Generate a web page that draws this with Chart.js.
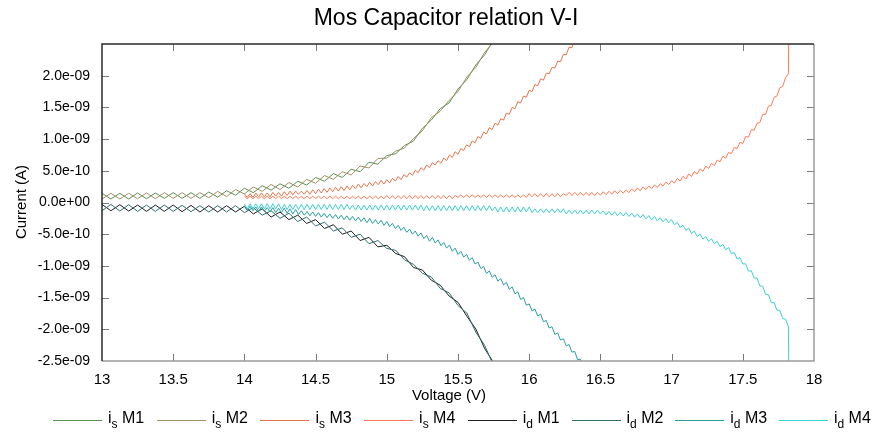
<!DOCTYPE html>
<html>
<head>
<meta charset="utf-8">
<script src="https://cdn.jsdelivr.net/npm/chart.js@4/dist/chart.umd.min.js"></script>
<style>
  html, body { margin: 0; padding: 0; background: #fff; }
  #wrap { position: relative; width: 872px; height: 434px; }
  #legend { position: absolute; left: 0; top: 0; width: 872px; height: 434px; pointer-events: none;
            font-family: "Liberation Sans", Arial, sans-serif; font-size: 16px; color: #000; }
  #legend .ln { position: absolute; top: 420px; width: 49px; height: 1px; }
  #legend .tx { position: absolute; top: 410px; line-height: 16px; white-space: nowrap; }
  #legend sub { font-size: 12px; vertical-align: -5px; line-height: 0; }
</style>
</head>
<body>
<div id="wrap">
  <canvas id="chartVI" width="872" height="434"></canvas>
  <div id="legend"></div>
</div>
<script>
// corrientes en unidades de 1e-10 A, barrido de tension en V
const sweepM12 = [13, 0.0625];   // inicio, paso
const sweepM34 = [14, 0.02];

const isM1 = [
  1.45,0.55,1.45,0.55,1.5,0.6,1.5,0.65,1.55,0.65,
  1.55,0.65,1.65,0.85,1.85,1.15,2.25,1.55,2.65,1.95,
  2.95,2.25,3.35,2.75,3.95,3.35,4.55,3.95,5.25,4.85,
  6.35,6.05,7.4,7.7,9.0,9.7,11.7,13.0,14.8,15.7,
  17.9,19.4,21.7,23.3,25.7,27.3
];
const isM2 = [
  0.55,1.45,0.55,1.45,0.6,1.5,0.6,1.55,0.65,1.55,
  0.65,1.55,0.75,1.75,0.95,2.05,1.35,2.45,1.75,2.85,
  2.05,3.15,2.45,3.65,3.05,4.25,3.65,4.85,4.35,5.75,
  5.45,6.95,7.0,8.1,8.6,10.1,11.3,13.4,14.4,16.1,
  17.5,19.8,21.3,23.7,25.3,27.7
];
const isM3 = [
  1.4,0.8,1.4,0.8,1.5,0.9,1.5,0.9,1.5,0.9,
  1.6,1.0,1.6,1.0,1.7,1.1,1.8,1.2,1.8,1.3,
  1.8,1.3,1.9,1.3,2.0,1.4,2.1,1.5,2.2,1.6,
  2.3,1.7,2.4,1.8,2.5,1.9,2.6,2.0,2.7,2.2,
  2.9,2.3,3.0,2.5,3.2,2.6,3.3,2.8,3.5,2.9,
  3.6,3.1,3.8,3.4,4.1,3.6,4.4,4.0,4.7,4.3,
  5.1,4.7,5.5,5.1,5.9,5.5,6.3,5.9,6.6,6.2,
  7.0,6.6,7.5,7.1,8.0,7.6,8.5,8.2,9.1,8.8,
  9.7,9.4,10.4,10.1,11.1,10.8,11.8,11.5,12.5,12.2,
  13.2,13.0,14.1,13.9,15.0,14.8,15.9,15.7,16.8,16.6,
  17.7,17.5,18.6,18.4,19.5,19.3,20.4,20.3,21.3,21.2,
  22.3,22.2,23.4,23.3,24.5,24.4,25.6,25.5,26.7,26.7
];
const isM4 = [
  1.0,0.6,1.0,0.6,1.0,0.6,1.0,0.6,1.0,0.6,
  1.0,0.6,1.0,0.6,1.0,0.6,1.0,0.6,1.0,0.6,
  1.0,0.6,1.0,0.6,1.0,0.6,1.0,0.6,1.0,0.6,
  1.0,0.6,1.0,0.6,1.0,0.6,1.0,0.6,1.0,0.6,
  1.0,0.6,1.0,0.6,1.0,0.6,1.0,0.6,1.0,0.6,
  1.1,0.6,1.1,0.6,1.1,0.6,1.1,0.6,1.1,0.6,
  1.1,0.6,1.1,0.6,1.1,0.6,1.1,0.6,1.1,0.6,
  1.1,0.6,1.1,0.6,1.1,0.8,1.2,0.8,1.2,0.8,
  1.2,0.8,1.2,0.8,1.2,0.8,1.2,0.8,1.2,0.8,
  1.2,0.8,1.2,0.8,1.2,0.8,1.2,0.8,1.2,0.8,
  1.4,0.9,1.4,0.9,1.4,0.9,1.4,0.9,1.4,0.9,
  1.4,0.9,1.4,1.1,1.6,1.1,1.6,1.1,1.6,1.1,
  1.6,1.1,1.6,1.1,1.6,1.15,1.69,1.23,1.77,1.31,
  1.85,1.39,1.93,1.47,2.01,1.55,2.13,1.71,2.29,1.87,
  2.45,2.03,2.61,2.19,2.77,2.35,2.97,2.59,3.21,2.83,
  3.45,3.06,3.82,3.38,4.14,3.70,4.50,4.10,4.90,4.50,
  5.30,4.92,5.74,5.36,6.18,5.80,6.70,6.40,7.30,7.00,
  7.90,7.70,8.70,8.50,9.50,9.30,10.4,10.3,11.5,11.4,
  12.5,12.6,13.9,13.9,15.2,15.3,16.6,16.8,18.1,18.3,
  19.7,20.3,60
];
const idM1 = [
  -0.3,-1.3,-0.35,-1.35,-0.4,-1.4,-0.4,-1.4,-0.4,-1.45,
  -0.45,-1.5,-0.5,-1.5,-0.5,-1.5,-0.6,-1.8,-1.0,-2.3,
  -1.5,-2.7,-2.0,-3.3,-2.7,-4.1,-3.5,-5.0,-4.5,-6.0,
  -5.5,-7.0,-6.75,-8.05,-8.55,-10.25,-10.65,-12.25,-13.05,-14.75,
  -15.75,-17.95,-19.95,-23.05,-25.25,-28.25
];
const idM2 = [
  -1.3,-0.3,-1.35,-0.35,-1.4,-0.4,-1.4,-0.4,-1.4,-0.45,
  -1.45,-0.5,-1.5,-0.5,-1.5,-0.5,-1.6,-0.8,-2.0,-1.3,
  -2.5,-1.7,-3.0,-2.3,-3.7,-3.1,-4.5,-4.0,-5.5,-5.0,
  -6.5,-6.0,-7.25,-7.55,-9.05,-9.75,-11.15,-11.75,-13.55,-14.25,
  -16.25,-17.45,-20.45,-22.55,-25.75,-27.75
];
const idM3 = [
  -0.6,-1.3,-0.6,-1.3,-0.7,-1.4,-0.7,-1.4,-0.8,-1.5,
  -0.8,-1.6,-0.9,-1.6,-0.9,-1.7,-1.0,-1.8,-1.1,-1.9,
  -1.3,-2.0,-1.4,-2.1,-1.5,-2.2,-1.6,-2.3,-1.7,-2.4,
  -1.8,-2.5,-1.9,-2.6,-2.0,-2.7,-2.1,-2.8,-2.2,-2.9,
  -2.3,-3.0,-2.4,-3.2,-2.5,-3.3,-2.7,-3.4,-2.8,-3.6,
  -3.0,-3.8,-3.3,-4.1,-3.6,-4.4,-3.9,-4.7,-4.2,-5.0,
  -4.5,-5.3,-4.8,-5.7,-5.2,-6.1,-5.5,-6.4,-5.9,-6.8,
  -6.3,-7.2,-6.7,-7.7,-7.2,-8.2,-7.7,-8.6,-8.2,-9.1,
  -8.7,-9.7,-9.4,-10.4,-10.1,-11.2,-10.8,-11.8,-11.4,-12.4,
  -12.0,-13.0,-12.6,-13.7,-13.3,-14.4,-14.1,-15.3,-15.0,-16.2,
  -16.0,-17.1,-16.8,-17.9,-17.6,-18.8,-18.6,-19.8,-19.6,-20.8,
  -20.6,-21.7,-21.5,-22.6,-22.4,-23.6,-23.5,-24.8,-24.7,-26.0
];
const idM4 = [
  -0.2,-1.0,-0.2,-1.0,-0.2,-1.0,-0.2,-1.0,-0.2,-1.0,
  -0.2,-1.0,-0.2,-1.1,-0.3,-1.1,-0.3,-1.1,-0.3,-1.1,
  -0.3,-1.1,-0.3,-1.1,-0.3,-1.1,-0.3,-1.1,-0.3,-1.1,
  -0.3,-1.1,-0.3,-1.1,-0.3,-1.1,-0.3,-1.1,-0.4,-1.2,
  -0.4,-1.2,-0.4,-1.2,-0.4,-1.2,-0.4,-1.2,-0.4,-1.2,
  -0.4,-1.2,-0.4,-1.2,-0.4,-1.2,-0.4,-1.2,-0.4,-1.2,
  -0.4,-1.2,-0.4,-1.3,-0.5,-1.3,-0.5,-1.3,-0.5,-1.3,
  -0.5,-1.3,-0.5,-1.3,-0.5,-1.3,-0.5,-1.3,-0.5,-1.3,
  -0.5,-1.3,-0.5,-1.3,-0.5,-1.3,-0.5,-1.3,-0.7,-1.5,
  -0.7,-1.5,-0.7,-1.5,-0.7,-1.5,-0.7,-1.5,-0.7,-1.5,
  -0.7,-1.6,-1.0,-1.6,-1.0,-1.6,-1.0,-1.6,-1.0,-1.6,
  -1.0,-1.6,-1.0,-1.8,-1.2,-1.8,-1.2,-1.8,-1.2,-1.8,
  -1.2,-1.8,-1.2,-1.8,-1.2,-1.8,-1.33,-1.96,-1.39,-2.02,
  -1.45,-2.08,-1.51,-2.14,-1.57,-2.20,-1.66,-2.32,-1.78,-2.44,
  -1.90,-2.58,-2.06,-2.74,-2.22,-2.90,-2.38,-3.06,-2.54,-3.22,
  -2.70,-3.52,-3.14,-3.96,-3.58,-4.40,-4.04,-4.88,-4.52,-5.36,
  -5.00,-5.78,-5.36,-6.14,-5.72,-6.50,-6.14,-6.98,-6.62,-7.46,
  -7.10,-8.10,-7.90,-8.90,-8.70,-9.70,-9.66,-10.82,-10.78,-11.94,
  -11.90,-13.16,-13.22,-14.48,-14.54,-15.80,-15.80,-17.00,-17.00,-18.30,
  -18.40,-19.6,-60
];

const xTicks = [13, 13.5, 14, 14.5, 15, 15.5, 16, 16.5, 17, 17.5, 18];
const yTicks = [-25, -20, -15, -10, -5, 0, 5, 10, 15, 20, 25];

const FONT = '"Liberation Sans", Arial, sans-serif';

(function () {
    const toPts = (vals, sweep) => vals.map((v, i) => ({ x: sweep[0] + i * sweep[1], y: v }));

    // [corriente, modelo, datos, barrido, color]
    const series = [
        ['s', 'M1', isM1, sweepM12, '#5c8f52'],
        ['s', 'M2', isM2, sweepM12, '#a48f64'],
        ['s', 'M3', isM3, sweepM34, '#e2764a'],
        ['s', 'M4', isM4, sweepM34, '#ff7a55'],
        ['d', 'M1', idM1, sweepM12, '#1e1e1e'],
        ['d', 'M2', idM2, sweepM12, '#2e6e6c'],
        ['d', 'M3', idM3, sweepM34, '#2a9e9e'],
        ['d', 'M4', idM4, sweepM34, '#3ccfcf']
    ];

    // exponente con dos digitos, estilo "2.0e-09"
    const fmtExp = v => {
        if (v === 25) return '';
        const s = (v * 1e-10).toExponential(1);
        return s.replace(/e([+-])(\d+)$/, (m, sg, d) => 'e' + sg + d.padStart(2, '0'));
    };

    // marco y marcas interiores en los cuatro lados
    const frame = {
        id: 'frame',
        afterDatasetsDraw(chart) {
            const { ctx, chartArea: a, scales: { x, y } } = chart;
            ctx.save();
            ctx.lineWidth = 1;
            ctx.strokeStyle = '#7a7a7a';
            ctx.beginPath();
            xTicks.forEach(t => {
                const px = Math.round(x.getPixelForValue(t)) + 0.5;
                if (px < a.left + 2 || px > a.right - 2) return;
                ctx.moveTo(px, a.top); ctx.lineTo(px, a.top + 7);
                ctx.moveTo(px, a.bottom); ctx.lineTo(px, a.bottom - 7);
            });
            yTicks.forEach(t => {
                const py = Math.round(y.getPixelForValue(t)) + 0.5;
                if (py < a.top + 2 || py > a.bottom - 2) return;
                ctx.moveTo(a.left, py); ctx.lineTo(a.left + 7, py);
                ctx.moveTo(a.right, py); ctx.lineTo(a.right - 7, py);
            });
            ctx.stroke();

            ctx.lineWidth = 1.5;
            ctx.strokeStyle = '#9a9a9a';
            ctx.beginPath();
            ctx.moveTo(a.left, a.bottom); ctx.lineTo(a.right, a.bottom); ctx.lineTo(a.right, a.top);
            ctx.stroke();
            ctx.strokeStyle = '#2a2a2a';
            ctx.beginPath();
            ctx.moveTo(a.left, a.bottom); ctx.lineTo(a.left, a.top); ctx.lineTo(a.right, a.top);
            ctx.stroke();
            ctx.restore();
        },
        afterDraw(chart) {
            const { ctx } = chart;
            ctx.save();
            ctx.fillStyle = '#000';
            ctx.textAlign = 'center';
            ctx.textBaseline = 'middle';
            ctx.font = '23px ' + FONT;
            ctx.fillText('Mos Capacitor relation V-I', 446, 19);
            ctx.font = '15px ' + FONT;
            ctx.fillText('Voltage (V)', 449, 396);
            ctx.translate(22, 202);
            ctx.rotate(-Math.PI / 2);
            ctx.fillText('Current (A)', 0, 0);
            ctx.restore();
        }
    };

    const ctx = document.getElementById('chartVI');
    new Chart(ctx, {
        type: 'line',
        data: {
            datasets: series.map((s, i) => ({
                label: 'i' + s[0] + ' ' + s[1],
                data: toPts(s[2], s[3]),
                borderColor: s[4],
                borderWidth: 1,
                pointRadius: 0,
                tension: 0,
                fill: false,
                order: -i            // las ultimas series quedan encima
            }))
        },
        options: {
            responsive: false,
            animation: false,
            devicePixelRatio: 1,
            layout: { padding: { top: 44, right: 58, bottom: 33, left: 0 } },
            plugins: { legend: { display: false }, title: { display: false }, tooltip: { enabled: false } },
            scales: {
                x: {
                    type: 'linear', min: 13, max: 18,
                    afterBuildTicks: s => { s.ticks = xTicks.map(v => ({ value: v })); },
                    ticks: { autoSkip: false, maxRotation: 0, padding: 2, color: '#000',
                             font: { family: FONT, size: 15 }, callback: v => String(v) },
                    grid: { display: false }, border: { display: false },
                    afterFit: s => { s.height = 40; }
                },
                y: {
                    type: 'linear', min: -25, max: 25,
                    afterBuildTicks: s => { s.ticks = yTicks.map(v => ({ value: v })); },
                    ticks: { autoSkip: false, padding: 4, color: '#000',
                             font: { family: FONT, size: 14 }, callback: fmtExp },
                    grid: { display: false }, border: { display: false },
                    afterFit: s => { s.width = 102; }
                }
            }
        },
        plugins: [frame]
    });

    // leyenda con subindices (i_s, i_d)
    const leg = document.getElementById('legend');
    series.forEach((s, i) => {
        const left = 53 + i * 103.7;
        const ln = document.createElement('div');
        ln.className = 'ln';
        ln.style.left = left + 'px';
        ln.style.background = s[4];
        const tx = document.createElement('div');
        tx.className = 'tx';
        tx.style.left = (left + 55) + 'px';
        tx.innerHTML = 'i<sub>' + s[0] + '</sub> ' + s[1];
        leg.appendChild(ln);
        leg.appendChild(tx);
    });
})();
</script>
</body>
</html>
